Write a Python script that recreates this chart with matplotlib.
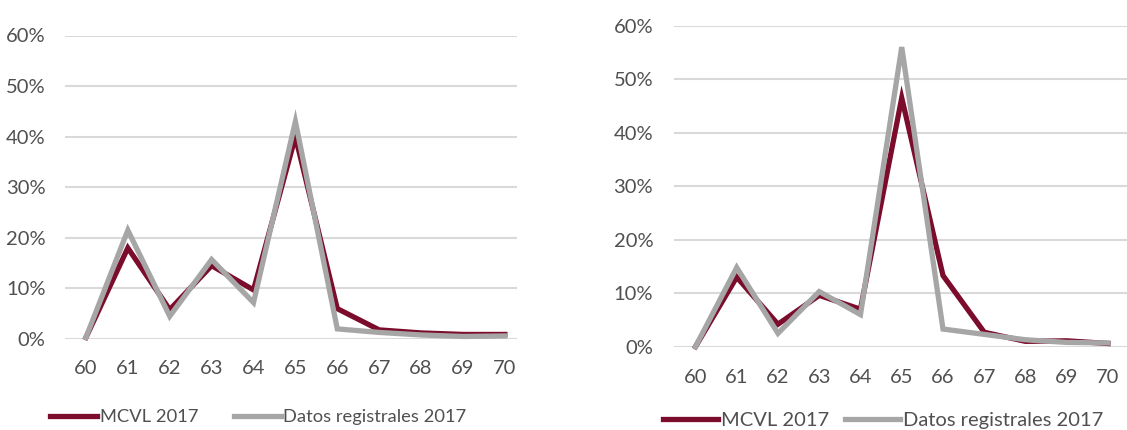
import matplotlib
matplotlib.use("Agg")
import matplotlib.pyplot as plt
from matplotlib.ticker import FuncFormatter

plt.rcParams['font.family'] = ['Lato', 'DejaVu Sans']

ages = [60, 61, 62, 63, 64, 65, 66, 67, 68, 69, 70]
left_mcvl = [0.003, 0.180, 0.058, 0.145, 0.097, 0.400, 0.060, 0.018, 0.012, 0.009, 0.009]
left_datos = [0.003, 0.215, 0.045, 0.157, 0.072, 0.430, 0.020, 0.013, 0.008, 0.005, 0.006]
right_mcvl = [0.000, 0.130, 0.042, 0.096, 0.070, 0.465, 0.133, 0.027, 0.010, 0.011, 0.006]
right_datos = [0.000, 0.148, 0.025, 0.103, 0.060, 0.560, 0.033, 0.023, 0.013, 0.008, 0.007]
yticks = [0, 0.1, 0.2, 0.3, 0.4, 0.5, 0.6]
labels = ["MCVL 2017", "Datos registrales 2017"]

W, H = 1127, 430
fig = plt.figure(figsize=(W / 100, H / 100), dpi=100)

MAROON = "#7B0C2B"
GRAY = "#A6A6A6"
TXT = "#505050"
FS = 14.5


def make_ax(x0, x1, ybot, ytop, xlim):
    ax = fig.add_axes([x0 / W, 1 - ybot / H, (x1 - x0) / W, (ybot - ytop) / H])
    ax.set_xlim(*xlim)
    ax.set_ylim(0, 0.6)
    for s in ax.spines.values():
        s.set_visible(False)
    ax.set_yticks(yticks)
    ax.set_xticks(ages)
    ax.yaxis.set_major_formatter(FuncFormatter(lambda v, p: f"{v*100:.0f}%"))
    ax.tick_params(length=0, labelsize=FS, labelcolor=TXT)
    ax.grid(axis='y', color="#D9D9D9", linewidth=1.5)
    ax.set_axisbelow(True)
    return ax


axL = make_ax(65, 517, 339, 35.5, (59.5, 70.29))
axL.tick_params(axis='y', pad=14)
axL.tick_params(axis='x', pad=15)
l1, = axL.plot(ages, left_mcvl, color=MAROON, lw=3.8, clip_on=False, solid_joinstyle='miter')
l2, = axL.plot(ages, left_datos, color=GRAY, lw=3.8, clip_on=False, solid_joinstyle='miter')

axR = make_ax(674, 1127, 346.7, 25.7, (59.48, 70.46))
axR.tick_params(axis='y', pad=15)
axR.tick_params(axis='x', pad=16)
r1, = axR.plot(ages, right_mcvl, color=MAROON, lw=3.8, clip_on=False, solid_joinstyle='miter')
r2, = axR.plot(ages, right_datos, color=GRAY, lw=3.8, clip_on=False, solid_joinstyle='miter')

legL = fig.legend([l1, l2], labels, loc='center left', bbox_to_anchor=(50 / W, 1 - 417 / H),
                  ncol=2, frameon=False, fontsize=13.2, handlelength=2.55, handletextpad=0.15,
                  columnspacing=1.95, borderpad=0, borderaxespad=0)
legR = fig.legend([r1, r2], labels, loc='center left', bbox_to_anchor=(663 / W, 1 - 420 / H),
                  ncol=2, frameon=False, fontsize=FS, handlelength=2.75, handletextpad=0.15,
                  columnspacing=0.75, borderpad=0, borderaxespad=0)
for leg in (legL, legR):
    for t in leg.get_texts():
        t.set_color(TXT)

fig.savefig("out.png", dpi=100)
